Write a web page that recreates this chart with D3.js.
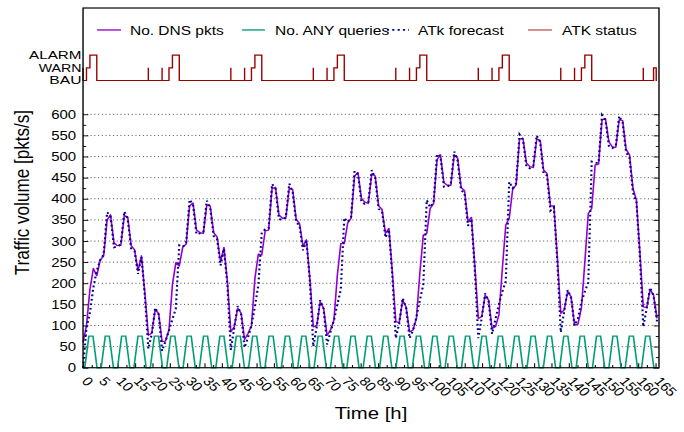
<!DOCTYPE html>
<html><head><meta charset="utf-8">
<script src="https://cdn.jsdelivr.net/npm/d3@7/dist/d3.min.js"></script>
<style>html,body{margin:0;padding:0;background:#fff;overflow:hidden}</style>
</head><body>
<svg id="chart" width="684" height="432" viewBox="0 0 640 480" preserveAspectRatio="none"></svg>
<script>
// ---------------- DATA ----------------
const sampleStepHours = 0.9906; // one sample per (axis) hour
const dnsPackets = [
 60,100,185,235,218,255,265,350,362,296,289,290,360,357,289,279,230,265,175,77,82,138,128,62,
 63,90,196,249,241,285,293,383,390,326,320,318,385,383,320,310,251,285,204,85,97,141,129,67,
 81,99,211,269,267,324,326,424,427,362,354,354,425,421,352,341,287,303,210,97,99,156,141,77,
 89,113,220,294,294,343,354,454,462,401,392,389,459,454,383,375,318,330,225,109,107,160,144,85,
 89,117,225,314,318,377,389,493,504,438,432,432,504,496,427,419,346,356,240,117,121,172,160,93,
 97,125,235,338,354,422,433,541,543,485,476,474,541,539,468,460,383,383,260,129,137,180,168,101,
 103,141,250,365,377,480,482,587,590,535,523,522,587,585,517,504,425,397,275,144,143,185,172,117
];
const atkForecast = [
 0,95,130,190,230,255,268,368,360,285,287,292,370,352,282,276,222,262,170,45,80,142,126,40,
 63,88,115,140,290,286,296,398,386,316,318,320,396,378,312,306,242,282,196,42,95,146,127,48,
 72,100,145,195,320,328,330,435,424,352,350,356,436,416,345,336,278,300,205,50,97,160,139,55,
 85,112,150,185,355,345,357,466,458,392,388,392,468,450,376,370,308,327,218,70,105,165,142,70,
 88,120,160,197,397,380,392,506,500,428,428,435,512,490,420,414,336,352,232,70,118,176,158,80,
 115,150,180,205,440,425,436,552,540,476,472,478,550,534,460,455,372,380,252,84,134,184,166,100,
 117,156,180,202,488,485,485,598,586,525,520,525,596,580,510,498,415,393,268,97,140,190,170,110
];
const anyTime = [0,0.5,1.68,2.86,4.04,5.22,6.4,7.58,8.76,9.94,11.12,12.3,13.48,14.66,15.84,17.02,18.2,19.38,20.56,21.74,22.92,24.1,25.28,26.46,27.64,28.82,30.0,31.18,32.36,33.54,34.72,35.9,37.08,38.26,39.44,40.62,41.8,42.98,44.16,45.34,46.52,47.7,48.88,50.06,51.24,52.42,53.6,54.78,55.96,57.14,58.32,59.5,60.68,61.86,63.04,64.22,65.4,66.58,67.76,68.94,70.12,71.3,72.48,73.66,74.84,76.02,77.2,78.38,79.56,80.74,81.92,83.1,84.28,85.46,86.64,87.82,89.0,90.18,91.36,92.54,93.72,94.9,96.08,97.26,98.44,99.62,100.8,101.98,103.16,104.34,105.52,106.7,107.88,109.06,110.24,111.42,112.6,113.78,114.96,116.14,117.32,118.5,119.68,120.86,122.04,123.22,124.4,125.58,126.76,127.94,129.12,130.3,131.48,132.66,133.84,135.02,136.2,137.38,138.56,139.74,140.92,142.1,143.28,144.46,145.64,146.82,148.0,149.18,150.36,151.54,152.72,153.9,155.08,156.26,157.44,158.62,159.8,160.98,162.16,163.34,164.52,165.43];
const anyQueries = [0,
 0,75,75,0, 0,75,75,0, 0,75,75,0, 0,75,75,0, 0,75,75,0,
 0,75,75,0, 0,75,75,0, 0,75,75,0, 0,75,75,0, 0,75,75,0,
 0,75,75,0, 0,75,75,0, 0,75,75,0, 0,75,75,0, 0,75,75,0,
 0,75,75,0, 0,75,75,0, 0,75,75,0, 0,75,75,0, 0,75,75,0,
 0,75,75,0, 0,75,75,0, 0,75,75,0, 0,75,75,0, 0,75,75,0,
 0,75,75,0, 0,75,75,0, 0,75,75,0, 0,75,75,0, 0,75,75,0,
 0,75,75,0, 0,75,75,0, 0,75,75,0, 0,75,75,0, 0,75,75,0,
 0];
const statusTime = [0,0,0.99,1.98,3.96,
 18.82,18.82,22.78,22.78,24.77,25.76,27.74,
 42.60,42.60,46.56,46.56,48.54,49.53,51.51,
 66.37,66.37,70.33,70.33,72.31,73.30,75.29,
 90.14,90.14,94.11,94.11,96.09,97.08,99.06,
 113.92,113.92,117.88,117.88,119.86,120.85,122.83,
 137.69,137.69,141.66,141.66,143.64,144.63,146.61,
 161.47,161.47,164.44,165.2,165.43];
const statusLevel = [1,0,1,2,0,
 1,0,1,0,1,2,0,
 1,0,1,0,1,2,0,
 1,0,1,0,1,2,0,
 1,0,1,0,1,2,0,
 1,0,1,0,1,2,0,
 1,0,1,0,1,2,0,
 1,0,1,0,0];
const statusNames = ["BAU","WARN","ALARM"];
const statusAxisValues = [680,710,740];
const yTickLabels = [0,50,100,150,200,250,300,350,400,450,500,550,600];
const xTickLabels = [0,5,10,15,20,25,30,35,40,45,50,55,60,65,70,75,80,85,90,95,100,105,110,115,120,125,130,135,140,145,150,155,160,165];
const legendLabels = ["No. DNS pkts","No. ANY queries","ATk forecast","ATK status"];

// ---------------- LAYOUT ----------------
const FONT = "'Liberation Sans', Arial, Helvetica, sans-serif";
const C = {dns:"#9400d3", any:"#009e73", fc:"#00008b", st:"#990000"};
const L = 77.7, R = 616.6, T = 8.9, B = 408.6;
const svg = d3.select("#chart");
const x = d3.scaleLinear().domain([0,166]).range([L,R]);
const y = d3.scaleLinear().domain([0,600]).range([B,127.0]);
const ys = d3.scaleLinear().domain([0,2]).range([y(statusAxisValues[0]), y(statusAxisValues[2])]);

// grid
svg.append("g").selectAll("line").data(yTickLabels.filter(v=>v>0)).join("line")
  .attr("x1",L).attr("x2",R).attr("y1",d=>y(d)).attr("y2",d=>y(d))
  .attr("stroke","#000").attr("stroke-width",0.9).attr("stroke-dasharray","1,2.5").attr("opacity",0.75);

function styleAxis(g){ g.select(".domain").remove(); g.selectAll("line").attr("stroke","#000").attr("stroke-width",1); }
// left axis
svg.append("g").attr("transform",`translate(${L},0)`)
  .call(d3.axisLeft(y).tickValues(yTickLabels).tickSizeInner(-5).tickSizeOuter(0).tickPadding(6.5))
  .call(styleAxis)
  .call(g=>g.selectAll("text").attr("font-family",FONT).attr("font-size",14).attr("fill","#000"));
svg.append("g").attr("transform",`translate(${L},0)`)
  .call(d3.axisLeft(y).tickValues(d3.range(25,600,50)).tickSizeInner(-3).tickSizeOuter(0).tickFormat(""))
  .call(styleAxis);
// right axis (mirror)
svg.append("g").attr("transform",`translate(${R},0)`)
  .call(d3.axisRight(y).tickValues(yTickLabels).tickSizeInner(-5).tickSizeOuter(0).tickFormat(""))
  .call(styleAxis);
svg.append("g").attr("transform",`translate(${R},0)`)
  .call(d3.axisRight(y).tickValues(d3.range(25,600,50)).tickSizeInner(-3).tickSizeOuter(0).tickFormat(""))
  .call(styleAxis);
// bottom axis
svg.append("g").attr("transform",`translate(0,${B})`)
  .call(d3.axisBottom(x).tickValues(xTickLabels).tickSizeInner(-5).tickSizeOuter(0))
  .call(styleAxis)
  .call(g=>g.selectAll("text").attr("font-family",FONT).attr("font-size",14).attr("fill","#000")
     .attr("text-anchor","start").attr("x",0).attr("y",0).attr("dy",0)
     .attr("transform","translate(-2.5,15.5) rotate(48)"));
svg.append("g").attr("transform",`translate(0,${B})`)
  .call(d3.axisBottom(x).tickValues(d3.range(2.5,166,5)).tickSizeInner(-3).tickSizeOuter(0).tickFormat(""))
  .call(styleAxis);

// status labels (compact so they do not collide)
const statusWidths = [30, 40, 49];
svg.append("g").selectAll("text").data(statusNames).join("text")
  .attr("x",L-1.5).attr("y",(d,i)=>ys(i)).attr("dy","0.36em").attr("text-anchor","end")
  .attr("font-family",FONT).attr("font-size",11.8)
  .attr("textLength",(d,i)=>statusWidths[i]).attr("lengthAdjust","spacingAndGlyphs")
  .text(d=>d);

// series
const tOf = i => i*sampleStepHours;
svg.append("path").datum(dnsPackets)
  .attr("d",d3.line().x((d,i)=>x(tOf(i))).y(d=>y(d)))
  .attr("fill","none").attr("stroke",C.dns).attr("stroke-width",1.5).attr("stroke-linejoin","round");
svg.append("path").datum(anyQueries)
  .attr("d",d3.line().x((d,i)=>x(anyTime[i])).y(d=>y(d)))
  .attr("fill","none").attr("stroke",C.any).attr("stroke-width",1.5);
svg.append("path").datum(atkForecast)
  .attr("d",d3.line().x((d,i)=>x(tOf(i))).y(d=>y(d)))
  .attr("fill","none").attr("stroke",C.fc).attr("stroke-width",2).attr("stroke-dasharray","2,3");
svg.append("path").datum(statusLevel)
  .attr("d",d3.line().curve(d3.curveStepAfter).x((d,i)=>x(statusTime[i])).y(d=>ys(d)))
  .attr("fill","none").attr("stroke",C.st).attr("stroke-width",1.3);

// frame
svg.append("rect").attr("x",L).attr("y",T).attr("width",R-L).attr("height",B-T)
  .attr("fill","none").attr("stroke","#000").attr("stroke-width",1.3);

// legend
const legendX = [[90.8,113.2,121.6],[226.4,248,257.3],[362,382.7,391.1],[494,516.5,525.9]];
const legendStyle = [
  {c:C.dns,w:1.5,da:null},{c:C.any,w:1.5,da:null},{c:C.fc,w:2,da:"2,3"},{c:"#b84040",w:1.3,da:null}];
const ly = 33.3;
legendLabels.forEach((lab,i)=>{
  svg.append("line").attr("x1",legendX[i][0]).attr("x2",legendX[i][1]).attr("y1",ly).attr("y2",ly)
    .attr("stroke",legendStyle[i].c).attr("stroke-width",legendStyle[i].w)
    .attr("stroke-dasharray",legendStyle[i].da);
  svg.append("text").attr("x",legendX[i][2]).attr("y",ly).attr("dy","0.36em")
    .attr("font-family",FONT).attr("font-size",14.5).text(lab);
});

// axis titles
svg.append("text").attr("x",(L+R)/2).attr("y",465.5).attr("text-anchor","middle")
  .attr("font-family",FONT).attr("font-size",19).text("Time [h]");
svg.append("text").attr("transform","translate(27,214) rotate(-90)").attr("text-anchor","middle")
  .attr("font-family",FONT).attr("font-size",19).text("Traffic volume [pkts/s]");
</script>
</body></html>
